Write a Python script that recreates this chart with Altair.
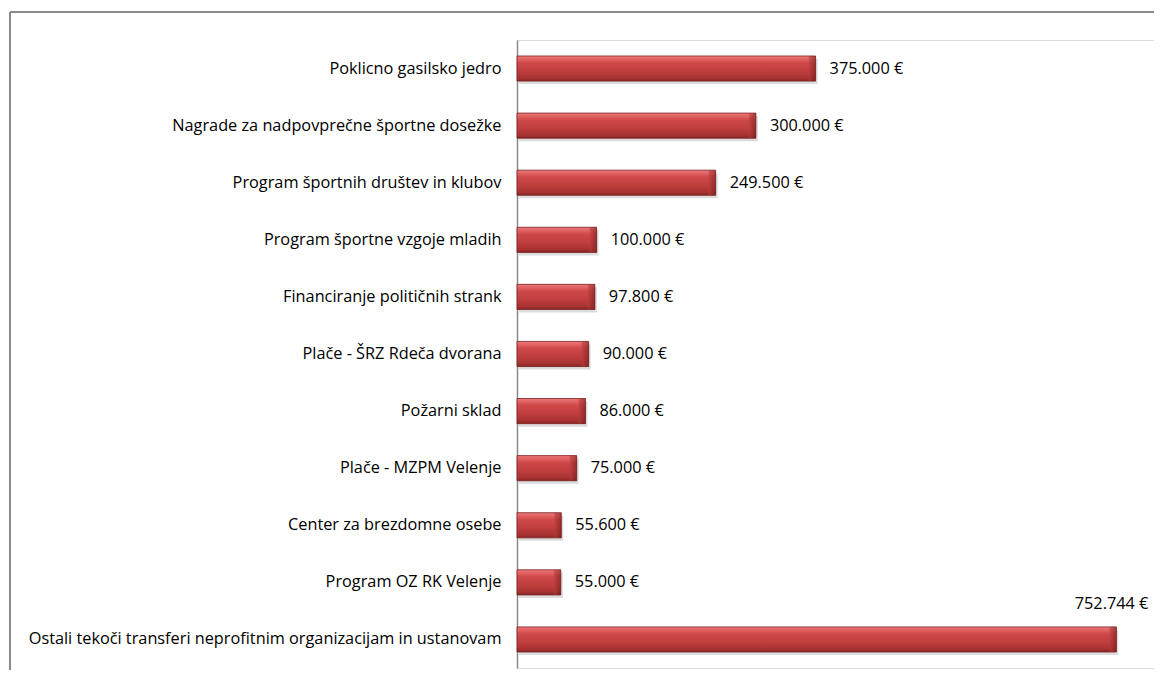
import altair as alt
import pandas as pd

categories = [
    "Poklicno gasilsko jedro",
    "Nagrade za nadpovprečne športne dosežke",
    "Program športnih društev in klubov",
    "Program športne vzgoje mladih",
    "Financiranje političnih strank",
    "Plače - ŠRZ Rdeča dvorana",
    "Požarni sklad",
    "Plače - MZPM Velenje",
    "Center za brezdomne osebe",
    "Program OZ RK Velenje",
    "Ostali tekoči transferi neprofitnim organizacijam in ustanovam",
]
values = [375000, 300000, 249500, 100000, 97800, 90000, 86000, 75000, 55600, 55000, 752744]

labels = [f"{v:,}".replace(",", ".") + " €" for v in values]
df = pd.DataFrame({"cat": categories, "val": values, "label": labels,
                   "above": [False] * 10 + [True]})

FONT = "Open Sans"
FS = 16.3
W, H = 637, 628

y_enc = alt.Y("cat:N", sort=categories,
              scale=alt.Scale(paddingInner=0.56, paddingOuter=0.28),
              axis=alt.Axis(title=None, ticks=False, domainColor="#8a8a8a", domainWidth=1.5,
                            labelFont=FONT, labelFontSize=FS, labelColor="#000000",
                            labelPadding=16, labelLimit=700))
x_enc = alt.X("val:Q", scale=alt.Scale(domain=[0, 800000], nice=False), axis=None)

base = alt.Chart(df)

shadow = base.mark_bar(color="#8a8a8a", opacity=0.3, xOffset=2, x2Offset=3, yOffset=3, y2Offset=3).encode(
    x=x_enc, y=y_enc)

bars = base.mark_bar(
    stroke="#7a2020", strokeWidth=0.8,
    color=alt.Gradient(
        gradient="linear", x1=0, y1=0, x2=0, y2=1,
        stops=[
            alt.GradientStop(offset=0, color="#ea7a78"),
            alt.GradientStop(offset=0.12, color="#e26464"),
            alt.GradientStop(offset=0.28, color="#cf4848"),
            alt.GradientStop(offset=0.6, color="#c03e3e"),
            alt.GradientStop(offset=0.88, color="#a83232"),
            alt.GradientStop(offset=1, color="#862626"),
        ],
    ),
).encode(x=x_enc, y=y_enc)

bevel = base.mark_bar(
    xOffset=-7, opacity=0.55,
    color=alt.Gradient(
        gradient="linear", x1=0, y1=0, x2=1, y2=0,
        stops=[
            alt.GradientStop(offset=0, color="#c03e3e"),
            alt.GradientStop(offset=1, color="#6e1a1a"),
        ],
    ),
).encode(x=alt.X("val:Q", scale=alt.Scale(domain=[0, 800000], nice=False), axis=None),
         x2="val:Q", y=y_enc)

txt_side = base.transform_filter("!datum.above").mark_text(
    align="left", baseline="middle", dx=14, font=FONT, fontSize=FS, color="#000000"
).encode(x=x_enc, y=y_enc, text="label:N")

txt_above = base.transform_filter("datum.above").mark_text(
    align="right", baseline="middle", dx=32, dy=-35, font=FONT, fontSize=FS, color="#000000"
).encode(x=x_enc, y=y_enc, text="label:N")

border_top = base.mark_rule(color="#8a8a8a", strokeWidth=1.5).encode(
    x=alt.value(-507), x2=alt.value(637), y=alt.value(-28))
border_left = base.mark_rule(color="#8a8a8a", strokeWidth=2).encode(
    x=alt.value(-507), y=alt.value(-28), y2=alt.value(630))

chart = alt.layer(border_top, border_left, shadow, bars, bevel, txt_side, txt_above).properties(
    width=W, height=H,
    autosize=alt.AutoSizeParams(type="none"),
    padding={"left": 509, "top": 32, "right": 0, "bottom": 2},
).configure_view(stroke="transparent", strokeWidth=0, strokeOpacity=0).configure(background="#ffffff")

chart.save("out.html", embed_options={"renderer": "svg", "actions": False})
